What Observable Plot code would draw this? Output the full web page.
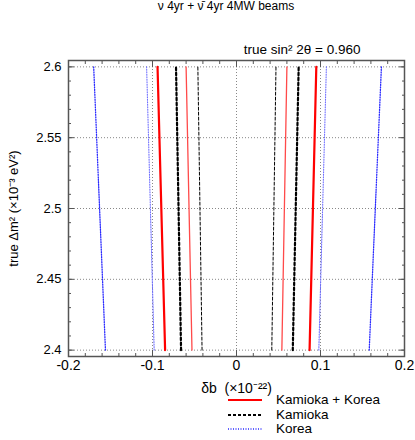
<!DOCTYPE html>
<html><head><meta charset="utf-8">
<script src="https://cdn.jsdelivr.net/npm/d3@7"></script>
<script src="https://cdn.jsdelivr.net/npm/@observablehq/plot@0.6"></script>
<style>
body{margin:0;background:#fff;font-family:"Liberation Sans",Arial,sans-serif;}
#wrap{position:relative;width:415px;height:440px;}
#title{position:absolute;left:0;top:-1px;width:452px;text-align:center;font-size:12px;}
#legend{position:absolute;left:228px;top:393px;font-size:13.5px;line-height:14.5px;}
.row{display:flex;align-items:center;}
.row svg{margin-right:14px;}
</style></head>
<body><div id="wrap"><div id="title"></div><div id="chart"></div><div id="legend"></div></div>
<script>
// Δm² values at the two ends of each contour
const dm2Ends = [2.4, 2.6];
// δb (×10^-22) at dm2 = 2.4 and 2.6
const kkThickLeft = [-0.085, -0.094];
const kkThickRight = [0.087, 0.095];
const kkThinLeft = [-0.053, -0.060];
const kkThinRight = [0.054, 0.060];
const kamThickLeft = [-0.066, -0.072];
const kamThickRight = [0.067, 0.074];
const kamThinLeft = [-0.041, -0.046];
const kamThinRight = [0.042, 0.047];
const korOuterLeft = [-0.156, -0.170];
const korOuterRight = [0.158, 0.1725];
const korInnerLeft = [-0.098, -0.107];
const korInnerRight = [0.098, 0.107];

const xTicks = [-0.2, -0.1, 0, 0.1, 0.2];
const yTicks = [2.4, 2.45, 2.5, 2.55, 2.6];
const xGrid = [-0.1, 0, 0.1];
const seriesNames = ["Kamioka + Korea", "Kamioka", "Korea"];

const styles = {
  kkThick: {stroke: "#ff0000", strokeWidth: 2.2},
  kkThin: {stroke: "#ff4a4a", strokeWidth: 1.3},
  kamThick: {stroke: "#000", strokeWidth: 2.2, strokeDasharray: "2.5,2.5"},
  kamThin: {stroke: "#000", strokeWidth: 1, strokeDasharray: "3,2"},
  korOuter: {stroke: "#2a2aff", strokeWidth: 1.3, strokeDasharray: "1,1.5"},
  korInner: {stroke: "#7070ff", strokeWidth: 1.1, strokeDasharray: "1,1.5"}
};
const lines = [
  ["kkThick", kkThickLeft], ["kkThick", kkThickRight],
  ["kkThin", kkThinLeft], ["kkThin", kkThinRight],
  ["kamThick", kamThickLeft], ["kamThick", kamThickRight],
  ["kamThin", kamThinLeft], ["kamThin", kamThinRight],
  ["korOuter", korOuterLeft], ["korOuter", korOuterRight],
  ["korInner", korInnerLeft], ["korInner", korInnerRight]
];
const lineMarks = lines.map(([k, xs]) =>
  Plot.line(xs.map((x, i) => ({x, y: dm2Ends[i]})), {x: "x", y: "y", ...styles[k]}));

const fmtX = d => d === 0 ? "0" : d.toFixed(1);
const fmtY = d => String(d);
const minorX = d3.range(-10, 11).map(i => i * 0.02);
const minorY = d3.range(0, 21).map(i => +(2.4 + i * 0.01).toFixed(2));

document.getElementById("title").textContent = "\u03bd 4yr + \u03bd\u0304 4yr 4MW beams";

const chart = Plot.plot({
  width: 415, height: 400,
  marginLeft: 68, marginRight: 11, marginTop: 60, marginBottom: 44,
  style: {fontFamily: "Liberation Sans, Arial, sans-serif", fontSize: "14px", color: "#000", background: "#fff"},
  x: {domain: [-0.2, 0.2]},
  y: {domain: [2.3955, 2.6045]},
  marks: [
    Plot.gridX(xGrid, {stroke: "#888", strokeOpacity: 1, strokeDasharray: "1,2"}),
    Plot.gridY(yTicks, {stroke: "#888", strokeOpacity: 1, strokeDasharray: "1,2"}),
    ...lineMarks,
    Plot.axisX(xTicks, {anchor: "bottom", tickSize: 0, tickPadding: 4, tickFormat: fmtX, label: "\u03b4b  (\u00d710\u207b\u00b2\u00b2)", labelAnchor: "center", labelArrow: "none", labelOffset: 36}),
    Plot.axisX(xTicks, {anchor: "bottom", tickSize: -6, text: null, label: null, stroke: "#555"}),
    Plot.axisX(xTicks, {anchor: "top", tickSize: -6, text: null, label: null, stroke: "#555"}),
    Plot.axisX(minorX, {anchor: "bottom", tickSize: -3, text: null, label: null, stroke: "#555"}),
    Plot.axisX(minorX, {anchor: "top", tickSize: -3, text: null, label: null, stroke: "#555"}),
    Plot.axisY(yTicks, {anchor: "left", tickSize: 0, tickPadding: 7, tickFormat: fmtY, label: "true \u0394m\u00b2 (\u00d710\u207b\u00b3 eV\u00b2)", labelAnchor: "center", labelArrow: "none", labelOffset: 60, fontSize: 13}),
    Plot.axisY(yTicks, {anchor: "left", tickSize: -6, text: null, label: null, stroke: "#555"}),
    Plot.axisY(yTicks, {anchor: "right", tickSize: -6, text: null, label: null, stroke: "#555"}),
    Plot.axisY(minorY, {anchor: "left", tickSize: -3, text: null, label: null, stroke: "#555"}),
    Plot.axisY(minorY, {anchor: "right", tickSize: -3, text: null, label: null, stroke: "#555"}),
    Plot.frame({stroke: "#555", strokeWidth: 1.5}),
    Plot.text(["true sin\u00b2 2\u03b8 = 0.960"], {frameAnchor: "top-right", dx: -44, dy: -7, lineAnchor: "bottom", fontSize: 13.5})
  ]
});
document.getElementById("chart").appendChild(chart);

const legendStyles = [{stroke: "#ff0000", strokeWidth: 2}, {stroke: "#000", strokeWidth: 2, strokeDasharray: "3,2"}, {stroke: "#2a2aff", strokeWidth: 1.5, strokeDasharray: "1,1.5"}];
const leg = d3.select("#legend");
seriesNames.forEach((name, i) => {
  const row = leg.append("div").attr("class", "row");
  const s = row.append("svg").attr("width", 34).attr("height", 10);
  const st = legendStyles[i];
  s.append("line").attr("x1", 0).attr("x2", 34).attr("y1", 5).attr("y2", 5)
    .attr("stroke", st.stroke).attr("stroke-width", st.strokeWidth)
    .attr("stroke-dasharray", st.strokeDasharray || null);
  row.append("span").text(name);
});
</script></body></html>
